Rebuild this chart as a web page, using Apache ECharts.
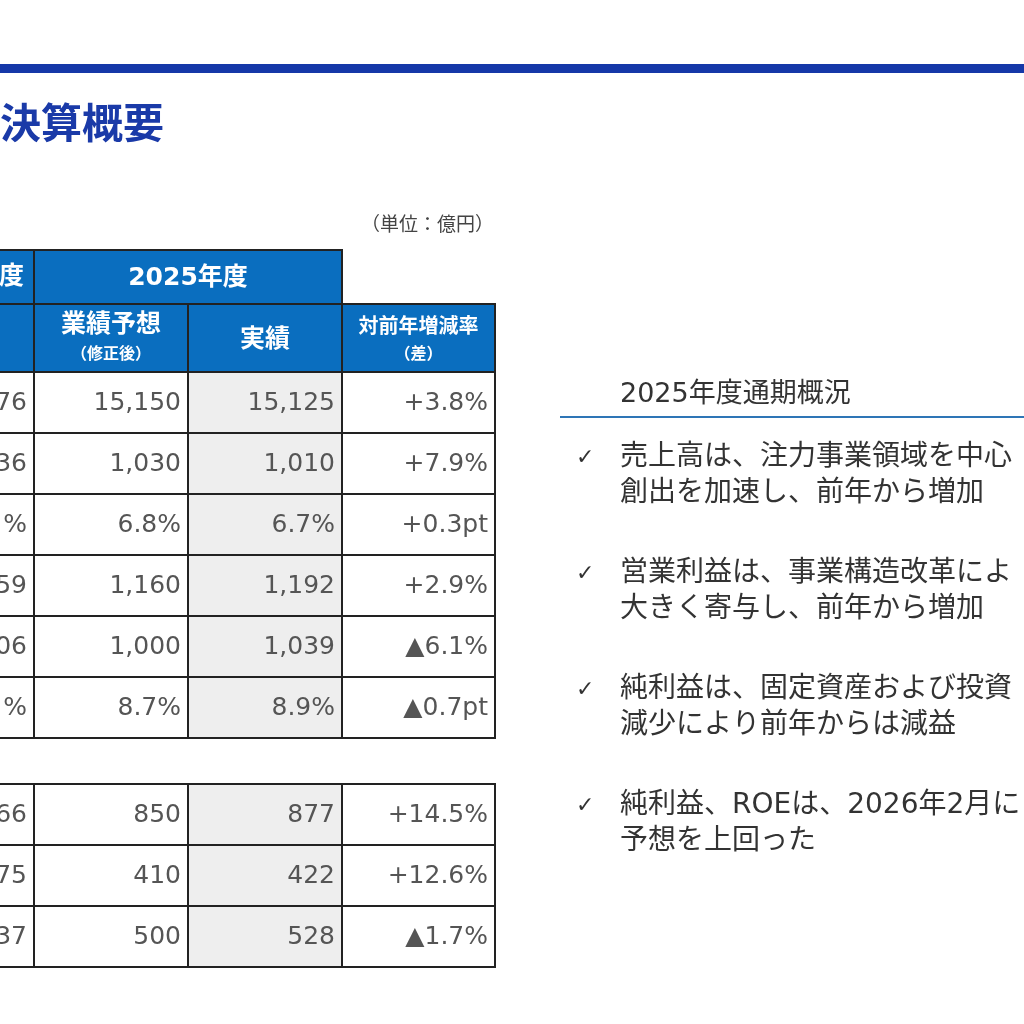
<!DOCTYPE html><html><head><meta charset="utf-8"><script src="https://cdn.jsdelivr.net/npm/echarts@6/dist/echarts.min.js"></script>
<style>body{margin:0}#c{width:1024px;height:1024px}</style></head><body><div id="c"></div><script>
const title='決算概要';
const unit='（単位：億円）';
const headYear='2025年度', prevHead='度';
const colHeads=[['業績予想','（修正後）'],['実績',''],['対前年増減率','（差）']];
const prevCol=['76','36','%','59','06','%'];
const forecast=['15,150','1,030','6.8%','1,160','1,000','8.7%'];
const actual=['15,125','1,010','6.7%','1,192','1,039','8.9%'];
const change=['+3.8%','+7.9%','+0.3pt','+2.9%','▲6.1%','▲0.7pt'];
const prevCol2=['66','75','37'];
const forecast2=['850','410','500'];
const actual2=['877','422','528'];
const change2=['+14.5%','+12.6%','▲1.7%'];
const summaryTitle='2025年度通期概況';
const bullets=[['売上高は、注力事業領域を中心','創出を加速し、前年から増加'],['営業利益は、事業構造改革によ','大きく寄与し、前年から増加'],['純利益は、固定資産および投資','減少により前年からは減益'],['純利益、ROEは、2026年2月に','予想を上回った']];

const F='"DejaVu Sans","Noto Sans CJK JP",sans-serif';
const BLUE='#0a6ebf', LINE='#222', TXT='#555';
const g=[];
g.push({type:'rect',shape:{x:0,y:64,width:1024,height:9},style:{fill:'#1538a8'}});
g.push({type:'text',style:{text:title,x:0,y:127,font:'bold 41px '+F,fill:'#1a3aa8',textVerticalAlign:'middle'}});
g.push({type:'text',style:{text:unit,x:494,y:226,font:'19px '+F,fill:'#444',textAlign:'right',textVerticalAlign:'middle'}});
const X=[-120,34,188,342,495];
function cell(x0,x1,y0,y1,fill,stroke){g.push({type:'rect',shape:{x:x0,y:y0,width:x1-x0,height:y1-y0},style:{fill:fill,stroke:stroke?LINE:null,lineWidth:2}});}
function txt(t,x,y,font,fill,align){g.push({type:'text',z:5,style:{text:t,x:x,y:y,font:font,fill:fill,textAlign:align||'center',textVerticalAlign:'middle'}});}
cell(X[0],X[1],250,304,BLUE,true);cell(X[1],X[3],250,304,BLUE,true);
txt(prevHead,24,277,'bold 25px '+F,'#fff','right');
txt(headYear,188,278,'bold 25px '+F,'#fff');
cell(X[0],X[1],304,372,BLUE,true);
colHeads.forEach((h,i)=>{cell(X[i+1],X[i+2],304,372,BLUE,true);
 if(h[1]){txt(h[0],(X[i+1]+X[i+2])/2,i==2?328:325,'bold '+(i==2?20:25)+'px '+F,'#fff');txt(h[1],(X[i+1]+X[i+2])/2,355,'bold 16px '+F,'#fff');}
 else txt(h[0],(X[i+1]+X[i+2])/2,340,'bold 25px '+F,'#fff');});
function rows(cols,top,h){cols[0].forEach((_,r)=>{const y0=top+r*h,y1=y0+h;
 cols.forEach((c,i)=>{cell(X[i],X[i+1],y0,y1,i==2?'#eeeeee':'#fff',true);txt(c[r],X[i+1]-7,(y0+y1)/2+1,'25px '+F,TXT,'right');});});}
rows([prevCol,forecast,actual,change],372,61);
rows([prevCol2,forecast2,actual2,change2],784,61);
txt(summaryTitle,620,395,'27px '+F,'#333','left');
g.push({type:'line',shape:{x1:560,y1:417,x2:1024,y2:417},style:{stroke:'#2e75b6',lineWidth:2}});
bullets.forEach((b,i)=>{const y=458+i*116;txt('✓',576,y,'bold 22px '+F,'#333','left');
 b.forEach((l,j)=>txt(l,620,y+j*36,'28px '+F,'#333','left'));});
const ch=echarts.init(document.getElementById('c'));
ch.setOption({backgroundColor:'#fff',graphic:{elements:g}});
</script></body></html>
